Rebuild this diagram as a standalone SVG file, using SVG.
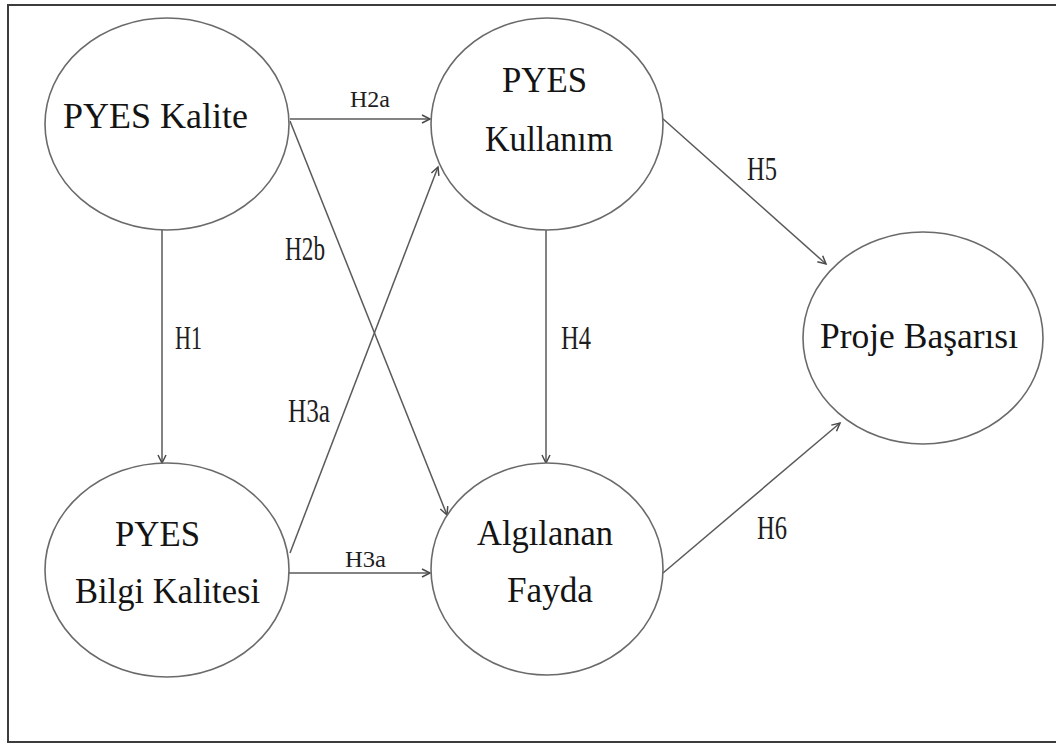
<svg xmlns="http://www.w3.org/2000/svg" width="1056" height="745" viewBox="0 0 1056 745">
  <style>
    .frame { fill: none; stroke: #3c3c3c; stroke-width: 2; }
    .node ellipse { fill: #ffffff; stroke: #6a6a6a; stroke-width: 1.6; }
    .node text { font-family: "Liberation Serif", "Times New Roman", serif; font-size: 35px; fill: #141414; }
    .link { fill: none; stroke: #5a5a5a; stroke-width: 1.5; marker-end: url(#arrow); }
    .lbl { font-family: "Liberation Serif", "Times New Roman", serif; fill: #1e1e1e; }
    .tall { font-size: 34px; }
    .flat { font-size: 24px; }
  </style>
  <defs>
    <marker id="arrow" markerUnits="userSpaceOnUse" markerWidth="12" markerHeight="12" refX="9" refY="5" orient="auto">
      <path d="M1,1 L9,5 L1,9" fill="none" stroke="#4a4a4a" stroke-width="1.5"/>
    </marker>
  </defs>

  <rect width="1056" height="745" fill="#ffffff"/>

  <!-- outer frame: top, left and bottom edges -->
  <path class="frame" d="M1056,5 L8,5 L8,742 L1056,742"/>

  <!-- connectors -->
  <g id="connectors">
    <line class="link" x1="162" y1="230" x2="162" y2="463"/>
    <line class="link" x1="290" y1="119" x2="430" y2="119"/>
    <line class="link" x1="290" y1="121" x2="447" y2="515"/>
    <line class="link" x1="290" y1="553" x2="438" y2="167"/>
    <line class="link" x1="289" y1="573" x2="430" y2="573"/>
    <line class="link" x1="546" y1="230" x2="546" y2="463"/>
    <line class="link" x1="662" y1="118" x2="826" y2="264"/>
    <line class="link" x1="663" y1="573" x2="840" y2="423"/>

    <text class="lbl flat" x="350" y="107" textLength="40" lengthAdjust="spacingAndGlyphs">H2a</text>
    <text class="lbl tall" x="285" y="260" textLength="40" lengthAdjust="spacingAndGlyphs">H2b</text>
    <text class="lbl tall" x="175" y="349" textLength="27" lengthAdjust="spacingAndGlyphs">H1</text>
    <text class="lbl tall" x="288" y="422" textLength="42" lengthAdjust="spacingAndGlyphs">H3a</text>
    <text class="lbl flat" x="345" y="567" textLength="41" lengthAdjust="spacingAndGlyphs">H3a</text>
    <text class="lbl tall" x="561" y="349" textLength="30" lengthAdjust="spacingAndGlyphs">H4</text>
    <text class="lbl tall" x="747" y="180" textLength="30" lengthAdjust="spacingAndGlyphs">H5</text>
    <text class="lbl tall" x="757" y="539" textLength="30" lengthAdjust="spacingAndGlyphs">H6</text>
  </g>

  <!-- nodes -->
  <g id="pyes-kalite" class="node">
    <ellipse cx="167" cy="124" rx="122" ry="106"/>
    <text x="63" y="128" textLength="185" lengthAdjust="spacingAndGlyphs">PYES Kalite</text>
  </g>

  <g id="pyes-bilgi-kalitesi" class="node">
    <ellipse cx="167" cy="570" rx="122" ry="107"/>
    <text x="115" y="546" textLength="85" lengthAdjust="spacingAndGlyphs">PYES</text>
    <text x="75" y="603" textLength="185" lengthAdjust="spacingAndGlyphs">Bilgi Kalitesi</text>
  </g>

  <g id="pyes-kullanim" class="node">
    <ellipse cx="547" cy="124" rx="116" ry="106"/>
    <text x="502" y="92" textLength="85" lengthAdjust="spacingAndGlyphs">PYES</text>
    <text x="485" y="151" textLength="128" lengthAdjust="spacingAndGlyphs">Kullanım</text>
  </g>

  <g id="algilanan-fayda" class="node">
    <ellipse cx="547" cy="569" rx="116" ry="106"/>
    <text x="477" y="545" textLength="136" lengthAdjust="spacingAndGlyphs">Algılanan</text>
    <text x="507" y="602" textLength="86" lengthAdjust="spacingAndGlyphs">Fayda</text>
  </g>

  <g id="proje-basarisi" class="node">
    <ellipse cx="923" cy="338" rx="120" ry="106"/>
    <text x="820" y="348" textLength="198" lengthAdjust="spacingAndGlyphs">Proje Başarısı</text>
  </g>
</svg>
